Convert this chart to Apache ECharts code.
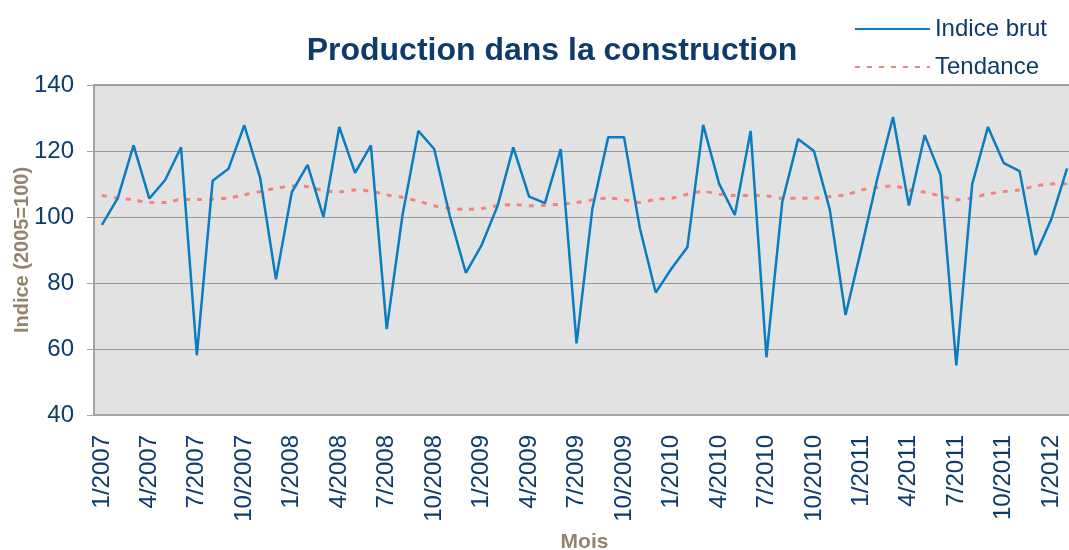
<!DOCTYPE html>
<html>
<head>
<meta charset="utf-8">
<script src="https://cdn.jsdelivr.net/npm/echarts@6/dist/echarts.min.js"></script>
<style>
  html, body { margin: 0; padding: 0; background: #fff; }
  #main { width: 1069px; height: 550px; }
</style>
</head>
<body>
<div id="main"></div>
<script>
// mois (1/2007 .. 2/2012)
var mois = [
  '1/2007','2/2007','3/2007','4/2007','5/2007','6/2007','7/2007','8/2007','9/2007','10/2007','11/2007','12/2007',
  '1/2008','2/2008','3/2008','4/2008','5/2008','6/2008','7/2008','8/2008','9/2008','10/2008','11/2008','12/2008',
  '1/2009','2/2009','3/2009','4/2009','5/2009','6/2009','7/2009','8/2009','9/2009','10/2009','11/2009','12/2009',
  '1/2010','2/2010','3/2010','4/2010','5/2010','6/2010','7/2010','8/2010','9/2010','10/2010','11/2010','12/2010',
  '1/2011','2/2011','3/2011','4/2011','5/2011','6/2011','7/2011','8/2011','9/2011','10/2011','11/2011','12/2011',
  '1/2012','2/2012'
];

var indiceBrut = [
  97.6, 105.7, 121.7, 105.6, 111.2, 121.1, 58.1, 111.0, 114.6, 127.8, 111.9, 81.1,
  107.5, 115.8, 100.0, 127.3, 113.4, 121.7, 66.0, 100.6, 126.1, 120.6, 100.1, 83.1,
  91.5, 103.3, 121.1, 106.2, 104.2, 120.6, 61.7, 102.6, 124.2, 124.2, 96.6, 77.1,
  84.4, 90.8, 127.9, 110.2, 100.6, 126.1, 57.5, 104.6, 123.6, 120.0, 102.3, 70.3,
  90.5, 111.5, 130.3, 103.5, 124.8, 112.7, 55.0, 109.9, 127.3, 116.3, 113.9, 88.5,
  99.3, 114.7
];

var tendance = [
  106.5, 105.7, 105.2, 104.4, 104.4, 105.3, 105.3, 105.4, 105.8, 106.7, 107.7, 108.7,
  109.4, 109.2, 108.0, 107.6, 108.2, 107.8, 106.7, 105.9, 104.8, 103.4, 102.6, 102.3,
  102.6, 103.4, 103.8, 103.4, 103.5, 103.9, 104.4, 105.2, 105.7, 105.2, 104.4, 105.4,
  105.7, 106.9, 107.7, 106.9, 106.5, 106.5, 106.4, 105.7, 105.7, 105.7, 106.2, 106.7,
  108.2, 108.9, 109.4, 108.2, 107.5, 106.4, 105.2, 105.8, 107.0, 107.7, 108.2, 109.4,
  110.0, 110.1
];

var navy = '#0f3b6c';
var tan = '#94846e';

var myChart = echarts.init(document.getElementById('main'));

var option = {
  animation: false,
  textStyle: { fontFamily: 'Liberation Sans, Arial, sans-serif' },
  title: {
    text: 'Production dans la construction',
    left: 547,
    textAlign: 'center',
    top: 30,
    textStyle: { color: navy, fontSize: 32, fontWeight: 'bold' }
  },
  legend: {
    orient: 'vertical',
    right: 17,
    top: 12,
    itemWidth: 75,
    itemHeight: 14,
    itemGap: 14,
    itemStyle: { opacity: 0 },
    textStyle: { color: navy, fontSize: 24, lineHeight: 24 },
    data: ['Indice brut', 'Tendance']
  },
  grid: {
    left: 94,
    width: 981,
    top: 85,
    bottom: 135,
    outerBoundsMode: 'none',
    show: true,
    backgroundColor: '#e2e2e2',
    borderColor: '#a3a3a3',
    borderWidth: 2
  },
  xAxis: {
    type: 'category',
    data: mois,
    name: 'Mois',
    nameLocation: 'middle',
    nameGap: 117,
    nameTextStyle: { color: tan, fontSize: 21, fontWeight: 'bold' },
    axisLine: { lineStyle: { color: '#a3a3a3', width: 2 } },
    axisTick: { interval: 0, length: 7, lineStyle: { color: '#a3a3a3' } },
    axisLabel: { interval: 2, rotate: 90, margin: 20, color: navy, fontSize: 24 }
  },
  yAxis: {
    type: 'value',
    min: 40,
    max: 140,
    interval: 20,
    name: 'Indice (2005=100)',
    nameLocation: 'middle',
    nameGap: 62,
    nameMoveOverlap: false,
    nameTextStyle: { color: tan, fontSize: 20, fontWeight: 'bold' },
    axisLine: { show: true, lineStyle: { color: '#a3a3a3', width: 2 } },
    axisTick: { show: true, length: 7, lineStyle: { color: '#a3a3a3' } },
    axisLabel: { margin: 20, color: navy, fontSize: 24 },
    splitLine: { lineStyle: { color: '#999999', width: 1 } }
  },
  series: [
    {
      name: 'Indice brut',
      type: 'line',
      data: indiceBrut,
      symbol: 'none',
      lineStyle: { color: '#0a7cc0', width: 2.5 },
      itemStyle: { color: '#0a7cc0' },
      z: 3
    },
    {
      name: 'Tendance',
      type: 'line',
      data: tendance,
      symbol: 'none',
      smooth: 0.3,
      lineStyle: { color: '#f4827e', width: 3, type: [5, 7] },
      itemStyle: { color: '#f4827e' },
      z: 2
    }
  ]
};

myChart.setOption(option);
</script>
</body>
</html>
